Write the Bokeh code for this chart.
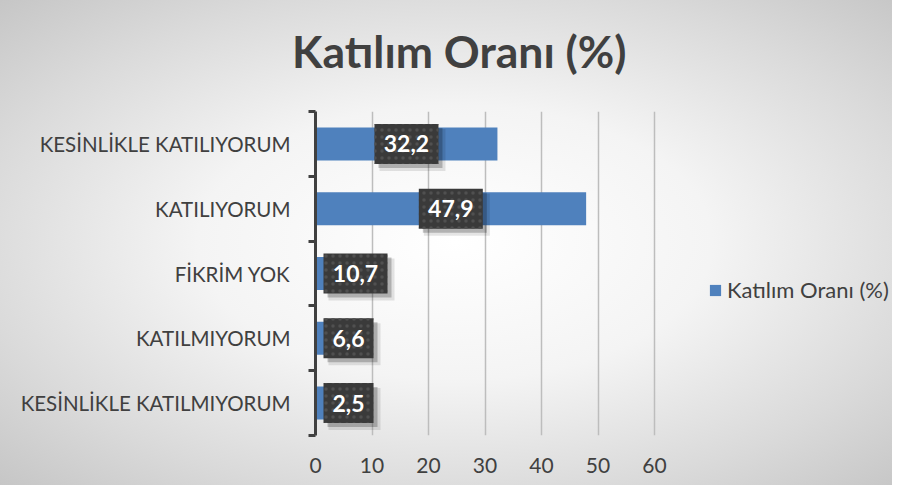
from bokeh.plotting import figure
from bokeh.models import (ColumnDataSource, FixedTicker, Legend, LegendItem,
                          Title, Range1d)
from bokeh.core.properties import value
from bokeh.embed import file_html
from bokeh.resources import INLINE

# ---- data ----
categories = ["KESİNLİKLE KATILMIYORUM", "KATILMIYORUM", "FİKRİM YOK",
              "KATILIYORUM", "KESİNLİKLE KATILIYORUM"]
values = [2.5, 6.6, 10.7, 47.9, 32.2]
value_labels = ["2,5", "6,6", "10,7", "47,9", "32,2"]
x_ticks = [0, 10, 20, 30, 40, 50, 60]
series_name = "Katılım Oranı (%)"
title_text = "Katılım Oranı (%)"

FONT = "Lato"
TXT = "#404040"

# layout: axis 0..60 spans 339 px; frame extends further right to host the legend
W, H = 892, 485
LEFT, TOP, BOTTOM = 315, 111, 50
AXIS_PX = 339
frame_w = W - LEFT
x_max = x_ticks[-1] * frame_w / AXIS_PX
n = len(categories)
px_x = AXIS_PX / x_ticks[-1]          # pixels per data unit (x)
px_y = (H - TOP - BOTTOM) / n         # pixels per band (y)

# label boxes (Excel style data callouts)
BOX_H = 40
box_w = [64 if len(s) >= 4 else 50 for s in value_labels]
ypos = [i + 0.5 for i in range(n)]
box_x = []
for v, w in zip(values, box_w):
    if v / 2 * px_x > w / 2 + 8:
        box_x.append(v / 2)
    else:
        box_x.append((8 + w / 2) / px_x)

src = ColumnDataSource(dict(y=ypos, v=values, lab=value_labels, bx=box_x, bw=box_w,
                            bx4=[b + 4 / px_x for b in box_x],
                            by4=[y - 4 / px_y for y in ypos],
                            bx6=[b + 6 / px_x for b in box_x],
                            by6=[y - 6 / px_y for y in ypos],
                            bw2=[w + 2 for w in box_w]))

p = figure(width=W, height=H, output_backend="svg", toolbar_location=None,
           x_range=Range1d(0, x_max), y_range=Range1d(0, n),
           min_border_left=LEFT, min_border_right=0, min_border_top=TOP,
           min_border_bottom=BOTTOM, title=None)
p.styles = {"background": "radial-gradient(ellipse farthest-corner at 51% 50%, #ffffff 0%, #f4f4f4 40%, #dadada 75%, #c6c6c6 100%)"}
p.border_fill_color = None
p.background_fill_color = None
p.outline_line_color = None

p.xgrid.grid_line_color = "#bdbdbd"
p.xgrid.grid_line_width = 1.5
p.ygrid.grid_line_color = None

bars = p.hbar(y="y", right="v", left=0, height=0.51, source=src,
              fill_color="#4f81bd", line_color=None)

# shadows
p.rect(x="bx6", y="by6", width="bw2", height=BOX_H + 2, width_units="screen",
       height_units="screen", source=src, fill_color="black", fill_alpha=0.10,
       line_color=None)
p.rect(x="bx4", y="by4", width="bw", height=BOX_H, width_units="screen",
       height_units="screen", source=src, fill_color="black", fill_alpha=0.22,
       line_color=None)
# boxes
p.rect(x="bx", y="y", width="bw", height=BOX_H, width_units="screen",
       height_units="screen", source=src, fill_color="#3a3a3a",
       hatch_pattern="dot", hatch_color="#505050", hatch_scale=7,
       hatch_weight=1.5, line_color=None)
p.text(x="bx", y="y", text="lab", source=src, text_align="center",
       text_baseline="middle", text_font_size="23px", text_font=value(FONT),
       text_font_style="bold", text_color="white")

# axes
p.xaxis.ticker = FixedTicker(ticks=x_ticks)
p.xaxis.axis_line_color = None
p.xaxis.major_tick_line_color = None
p.xaxis.minor_tick_line_color = None
p.xaxis.major_label_text_font = FONT
p.xaxis.major_label_text_font_size = "21px"
p.xaxis.major_label_text_color = TXT
p.xaxis.major_label_standoff = 16

p.yaxis.ticker = FixedTicker(ticks=ypos, minor_ticks=list(range(n + 1)))
p.yaxis.major_label_overrides = {yv: c for yv, c in zip(ypos, categories)}
p.yaxis.axis_line_color = "#404040"
p.yaxis.axis_line_width = 3
p.yaxis.major_tick_line_color = None
p.yaxis.minor_tick_line_color = "#404040"
p.yaxis.minor_tick_line_width = 3
p.yaxis.minor_tick_out = 7
p.yaxis.minor_tick_in = 0
p.yaxis.major_label_text_font = FONT
p.yaxis.major_label_text_font_size = "20.5px"
p.yaxis.major_label_text_color = TXT
p.yaxis.major_label_standoff = 18

# title (a tiny, background-coloured spacer panel sits between frame and title)
spacer = Title(text=".", text_font_size="1px", text_color="#f6f6f6", standoff=20)
p.add_layout(spacer, "above")
t = Title(text=title_text, align="left", offset=-23.5, standoff=23,
          text_font=FONT, text_font_size="44.5px", text_font_style="bold",
          text_color=TXT)
p.add_layout(t, "above")

# legend
legend = Legend(items=[LegendItem(label=series_name, renderers=[bars])],
                location=(393, 132), orientation="vertical",
                glyph_width=14, glyph_height=14, label_standoff=5,
                padding=0, margin=0, border_line_color=None,
                background_fill_alpha=0, label_text_font=FONT,
                label_text_font_size="22px", label_text_color=TXT)
p.add_layout(legend, "center")

open("out.html", "w").write(file_html(p, INLINE))
